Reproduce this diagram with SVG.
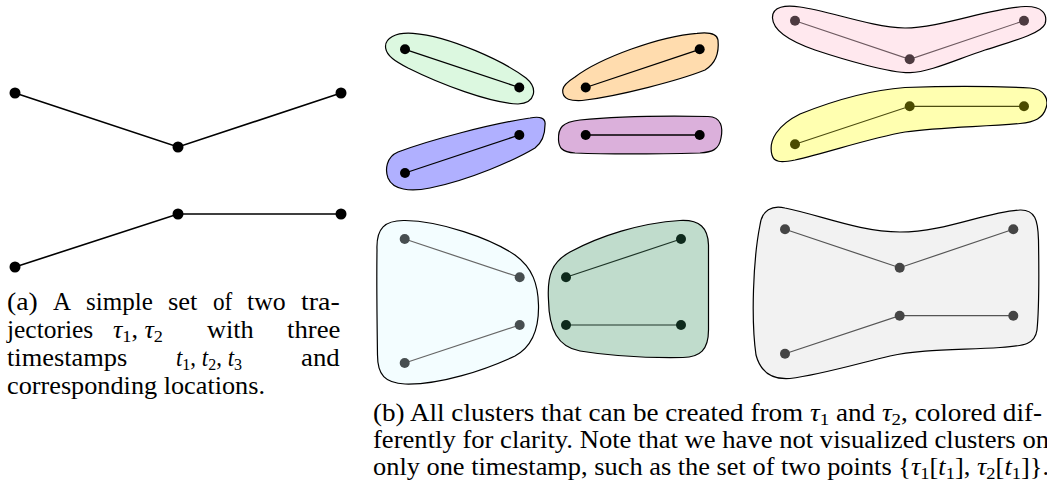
<svg xmlns="http://www.w3.org/2000/svg" width="1047" height="492" viewBox="0 0 1047 492">
<style>
.blob{stroke:#000;stroke-width:1.2;stroke-linejoin:round}
.seg{fill:none;stroke:#000;stroke-width:1.3}
.segA{fill:none;stroke:#000;stroke-width:1.6}
.cap{font-family:'Liberation Serif',serif;font-size:25px;fill:#000}
.m{font-style:italic}
.sub{font-size:17.5px}
</style>
<rect width="1047" height="492" fill="#fff"/>

<!-- Panel (a) -->
<g id="connectors">
<polyline class="segA" points="15,93 178,147 341,93"/>
<polyline class="segA" points="15,267 178,214 341,214"/>
</g>
<g id="traj-a" fill="#000">
<circle cx="15" cy="93" r="5.5"/><circle cx="178" cy="147" r="5.5"/><circle cx="341" cy="93" r="5.5"/>
<circle cx="15" cy="267" r="5.5"/><circle cx="178" cy="214" r="5.5"/><circle cx="341" cy="214" r="5.5"/>
</g>

<!-- Panel (b) clusters -->
<g id="cl-green">
<path class="blob" fill="#dcf8e0" d="M385.7,48.3 C384,38 396,32 413,33.3 C450,36 505,62 526,78 C538,88 536,103 518,104 C490,103 440,84 408,68 C395,61 387,56 385.7,48.3 Z"/>
<line class="seg" x1="405" y1="49.3" x2="519.3" y2="87.5"/>
<circle cx="405" cy="49.3" r="5"/><circle cx="519.3" cy="87.5" r="5"/>
</g>
<g id="cl-orange">
<path class="blob" fill="#ffdcae" d="M562.7,90 C562,100 572,101 582,100.5 C620,96 680,80 705,70 C718,62 719,50 718,40 C717,33 708,32 697,33.3 C660,36 600,58 575,77 C567,82 563,86 562.7,90 Z"/>
<line class="seg" x1="585.7" y1="87.5" x2="699.7" y2="49.3"/>
<circle cx="585.7" cy="87.5" r="5"/><circle cx="699.7" cy="49.3" r="5"/>
</g>
<g id="cl-blue">
<path class="blob" fill="#b0b0ff" d="M545,125 C546,118 540,116 530,118 C490,124 430,140 398,152 C386,157 385,170 388,178 C393,190 410,192 430,188 C470,180 515,160 535,148 C544,141 545,132 545,125 Z"/>
<line class="seg" x1="405" y1="173" x2="519.3" y2="135"/>
<circle cx="405" cy="173" r="5"/><circle cx="519.3" cy="135" r="5"/>
</g>
<g id="cl-purple">
<path class="blob" fill="#dbb0db" d="M558.5,140 C558,128 562,122 580,120 C620,116 680,116 708,116.5 C722,117 723,128 721,138 C719,150 712,152 700,153 C660,154 600,154 575,153 C561,152 559,147 558.5,140 Z"/>
<line class="seg" x1="585.7" y1="135" x2="699.7" y2="135" stroke-width="1.6"/>
<circle cx="585.7" cy="135" r="5"/><circle cx="699.7" cy="135" r="5"/>
</g>
<g id="cl-pink">
<path class="blob" fill="#ffe8ee" d="M772.5,18 C772,6 786,5 800,7 C830,11 870,27 905,28 C940,28 990,8 1025,6.5 C1042,6 1048,14 1045,24 C1041,34 1010,42 985,50 C955,60 930,72 910,72.7 C890,73 845,60 815,50 C795,43 773,32 772.5,18 Z"/>
<polyline class="seg" points="795,20.7 909.7,59.3 1024,20.7" style="stroke:#6e5a60;stroke-width:1.1"/>
<g fill="#4d3a40"><circle cx="795" cy="20.7" r="5"/><circle cx="909.7" cy="59.3" r="5"/><circle cx="1024" cy="20.7" r="5"/></g>
</g>
<g id="cl-yellow">
<path class="blob" fill="#ffffb0" d="M772,155 C768,140 778,125 800,114 C830,102 870,90 905,87.5 C950,86 1000,86.5 1030,88 C1045,89 1049,100 1046,108 C1043,118 1035,122 1020,123.5 C980,127 940,127 905,132 C870,138 830,152 795,160 C780,163 774,162 772,155 Z"/>
<polyline class="seg" points="795,144.3 909.7,106.3 1024,106.3" style="stroke:#4d4d10;stroke-width:1.2"/>
<g fill="#4b4b00"><circle cx="795" cy="144.3" r="5"/><circle cx="909.7" cy="106.3" r="5"/><circle cx="1024" cy="106.3" r="5"/></g>
</g>
<g id="cl-cyan">
<path class="blob" fill="#f3fdff" d="M377,250 C376,228 385,220 405,220.5 C440,221 490,238 515,255 C533,268 538,285 538.5,305 C539,325 535,345 515,356 C485,370 440,385 405,384 C385,383 377.5,375 377.5,355 C377,320 376.5,280 377,250 Z"/>
<g style="stroke:#666;stroke-width:1.2;fill:none"><line x1="404.7" y1="239" x2="519.7" y2="277.3"/><line x1="404.7" y1="363" x2="519.7" y2="325"/></g>
<g fill="#474e50"><circle cx="404.7" cy="239" r="5"/><circle cx="519.7" cy="277.3" r="5"/><circle cx="519.7" cy="325" r="5"/><circle cx="404.7" cy="363" r="5"/></g>
</g>
<g id="cl-teal">
<path class="blob" fill="#c0dccc" d="M548.5,300 C547,275 552,262 570,252 C600,236 640,223 680,220.5 C700,219.5 708,228 708.5,245 L708.5,330 C708.5,350 700,357 683,357.5 C650,358 610,356 580,351 C558,347 549,330 548.5,300 Z"/>
<g style="stroke:#1e3528;stroke-width:1.2;fill:none"><line x1="566" y1="277.3" x2="681" y2="239"/><line x1="566" y1="325" x2="681" y2="325"/></g>
<g fill="#0e2a1c"><circle cx="566" cy="277.3" r="5"/><circle cx="681" cy="239" r="5"/><circle cx="566" cy="325" r="5"/><circle cx="681" cy="325" r="5"/></g>
</g>
<g id="cl-grey">
<path class="blob" fill="#f2f2f2" d="M760,225 C762,210 772,205 785,208 C820,215 860,232 900,232 C945,232 985,212 1020,210 C1035,209.5 1038,220 1038.5,240 C1039,270 1039,310 1037,330 C1035,344 1025,346 1000,347.5 C960,350 920,349 890,356 C860,363 820,375 790,378.5 C770,380 760,370 756,355 C751,320 753,260 760,225 Z"/>
<g style="stroke:#555;stroke-width:1.2;fill:none"><polyline points="785,229.3 899.7,267.7 1013.3,229.3"/><polyline points="785,353.7 899.7,315.7 1013.3,315.7"/></g>
<g fill="#454545"><circle cx="785" cy="229.3" r="5"/><circle cx="899.7" cy="267.7" r="5"/><circle cx="1013.3" cy="229.3" r="5"/><circle cx="785" cy="353.7" r="5"/><circle cx="899.7" cy="315.7" r="5"/><circle cx="1013.3" cy="315.7" r="5"/></g>
</g>

<!-- Caption (a) -->
<g id="caption-a" class="cap" font-family="Liberation Serif" font-size="25">
<text x="7" y="310" textLength="30.7" lengthAdjust="spacingAndGlyphs">(a)</text>
<text x="53" y="310" textLength="18" lengthAdjust="spacingAndGlyphs">A</text>
<text x="86" y="310" textLength="66.8" lengthAdjust="spacingAndGlyphs">simple</text>
<text x="168" y="310" textLength="29.5" lengthAdjust="spacingAndGlyphs">set</text>
<text x="213" y="310" textLength="19.3" lengthAdjust="spacingAndGlyphs">of</text>
<text x="247" y="310" textLength="38.7" lengthAdjust="spacingAndGlyphs">two</text>
<text x="301" y="310" textLength="38.7" lengthAdjust="spacingAndGlyphs">tra-</text>

<text x="7" y="338" textLength="86.2" lengthAdjust="spacingAndGlyphs">jectories</text>
<text x="113" y="338" textLength="50" lengthAdjust="spacingAndGlyphs"><tspan class="m">τ</tspan><tspan class="sub" dy="4">1</tspan><tspan dy="-4">, </tspan><tspan class="m">τ</tspan><tspan class="sub" dy="4">2</tspan></text>
<text x="207" y="338" textLength="46.7" lengthAdjust="spacingAndGlyphs">with</text>
<text x="287" y="338" textLength="53.4" lengthAdjust="spacingAndGlyphs">three</text>

<text x="7" y="366" textLength="120.3" lengthAdjust="spacingAndGlyphs">timestamps</text>
<text x="176" y="366" textLength="66" lengthAdjust="spacingAndGlyphs"><tspan class="m">t</tspan><tspan class="sub" dy="4">1</tspan><tspan dy="-4">, </tspan><tspan class="m">t</tspan><tspan class="sub" dy="4">2</tspan><tspan dy="-4">, </tspan><tspan class="m">t</tspan><tspan class="sub" dy="4">3</tspan></text>
<text x="301" y="366" textLength="38.7" lengthAdjust="spacingAndGlyphs">and</text>

<text x="7" y="394" textLength="258" lengthAdjust="spacingAndGlyphs">corresponding locations.</text>
</g>

<!-- Caption (b) -->
<g id="caption-b" class="cap" font-family="Liberation Serif" font-size="25">
<text x="373" y="421" textLength="669" lengthAdjust="spacingAndGlyphs">(b) All clusters that can be created from <tspan class="m">τ</tspan><tspan class="sub" dy="4">1</tspan><tspan dy="-4"> and </tspan><tspan class="m">τ</tspan><tspan class="sub" dy="4">2</tspan><tspan dy="-4">, colored dif-</tspan></text>
<text x="373" y="448" textLength="676" lengthAdjust="spacingAndGlyphs">ferently for clarity. Note that we have not visualized clusters on</text>
<text x="373" y="475" textLength="676" lengthAdjust="spacingAndGlyphs">only one timestamp, such as the set of two points {<tspan class="m">τ</tspan><tspan class="sub" dy="4">1</tspan><tspan dy="-4">[</tspan><tspan class="m">t</tspan><tspan class="sub" dy="4">1</tspan><tspan dy="-4">], </tspan><tspan class="m">τ</tspan><tspan class="sub" dy="4">2</tspan><tspan dy="-4">[</tspan><tspan class="m">t</tspan><tspan class="sub" dy="4">1</tspan><tspan dy="-4">]}.</tspan></text>
</g>
</svg>
